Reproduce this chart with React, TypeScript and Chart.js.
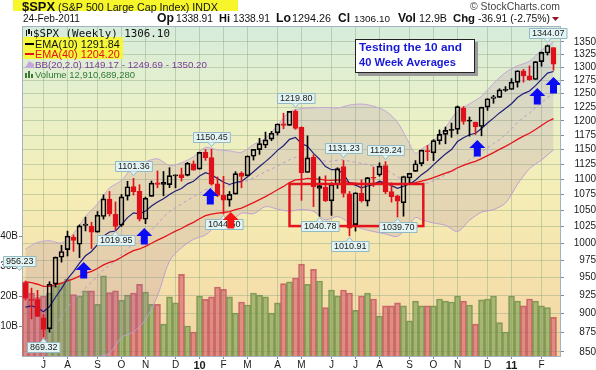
import React, { useEffect, useRef } from "react";
import { Chart, registerables } from "chart.js";
Chart.register(...registerables);

// Weekly $SPX candles, week 0 = week ending 19-Jun-2009, week 88 = 24-Feb-2011
const priorClose = 946.21;
const opens = [
  942.5, 918.1, 919.0, 894.3, 880.0, 940.6, 979.0, 990.2, 1008.9, 998.2,
  1026.6, 1025.2, 1016.4, 1040.5, 1067.9, 1043.7, 1026.9, 1072.6, 1088.0, 1080.4,
  1036.2, 1072.3, 1094.1, 1094.9, 1091.1, 1105.5, 1107.8, 1106.4, 1125.5, 1116.6,
  1145.0, 1136.0, 1092.4, 1073.9, 1066.1, 1075.9, 1110.0, 1105.4, 1138.4, 1149.7,
  1157.2, 1167.7, 1178.7, 1194.9, 1192.1, 1217.1, 1188.6, 1111.0, 1136.5, 1084.8,
  1087.3, 1065.0, 1091.2, 1121.0, 1076.4, 1028.0, 1077.0, 1064.5, 1102.0, 1107.0,
  1122.8, 1080.0, 1073.0, 1062.0, 1102.0, 1113.0, 1126.0, 1148.0, 1144.0, 1165.0,
  1176.0, 1184.0, 1185.0, 1223.0, 1200.0, 1198.0, 1190.0, 1225.0, 1241.0, 1243.0,
  1256.0, 1257.6, 1271.0, 1293.2, 1283.3, 1276.5, 1311.0, 1328.0, 1338.91,
];
const highs = [
  945.0, 935.0, 931.9, 898.7, 943.96, 979.4, 996.7, 1018.0, 1012.2, 1027.6,
  1039.5, 1031.6, 1048.2, 1074.8, 1080.15, 1063.4, 1075.3, 1096.6, 1101.36, 1091.0,
  1071.0, 1097.0, 1113.7, 1112.8, 1119.1, 1107.3, 1118.4, 1128.0, 1130.4, 1145.4,
  1149.7, 1150.45, 1103.7, 1104.7, 1080.0, 1112.4, 1112.3, 1139.0, 1150.0, 1169.3,
  1180.2, 1181.4, 1194.7, 1213.9, 1217.3, 1219.8, 1189.5, 1173.6, 1141.0, 1104.0,
  1105.7, 1094.0, 1119.0, 1131.23, 1080.0, 1078.0, 1099.0, 1103.0, 1120.0, 1127.3,
  1129.24, 1094.0, 1074.0, 1105.0, 1110.0, 1131.0, 1148.9, 1157.0, 1167.0, 1184.0,
  1189.0, 1196.0, 1227.1, 1226.0, 1207.0, 1198.0, 1225.0, 1240.0, 1246.7, 1259.0,
  1263.0, 1278.2, 1293.2, 1296.1, 1302.7, 1311.0, 1330.0, 1344.07, 1338.91,
];
const lows = [
  918.6, 893.0, 896.0, 869.32, 875.4, 936.6, 971.9, 980.9, 987.7, 978.5,
  1018.3, 991.97, 1016.4, 1036.4, 1041.2, 1019.95, 1025.2, 1066.2, 1074.3, 1033.4,
  1029.4, 1072.3, 1086.0, 1073.1, 1086.3, 1085.9, 1097.0, 1105.4, 1114.8, 1116.6,
  1131.4, 1090.2, 1071.6, 1044.5, 1056.5, 1075.9, 1086.0, 1105.4, 1131.9, 1141.5,
  1152.9, 1165.0, 1175.0, 1186.0, 1192.1, 1185.0, 1065.8, 1111.0, 1055.9, 1040.78,
  1064.0, 1042.2, 1085.0, 1071.0, 1010.91, 1018.0, 1063.0, 1056.9, 1088.0, 1105.0,
  1076.6, 1063.0, 1039.7, 1040.9, 1091.0, 1113.0, 1122.0, 1131.0, 1131.0, 1159.0,
  1159.7, 1171.0, 1177.0, 1194.0, 1173.0, 1176.0, 1173.6, 1219.0, 1232.0, 1243.0,
  1254.0, 1257.6, 1262.0, 1271.3, 1275.0, 1276.5, 1302.0, 1324.0, 1294.26,
];
const closes = [
  921.2, 918.9, 896.4, 879.1, 940.4, 979.3, 987.5, 1010.5, 1004.1, 1026.1,
  1028.9, 1016.4, 1042.7, 1068.3, 1044.4, 1025.2, 1071.5, 1087.7, 1079.6, 1036.2,
  1069.3, 1093.5, 1091.4, 1091.5, 1106.0, 1106.4, 1102.5, 1126.5, 1115.1, 1145.0,
  1136.0, 1091.8, 1073.9, 1066.2, 1075.5, 1109.2, 1104.5, 1138.7, 1150.0, 1159.9,
  1166.6, 1178.1, 1194.4, 1192.1, 1217.3, 1186.7, 1110.9, 1135.7, 1087.7, 1089.4,
  1064.9, 1091.6, 1117.5, 1076.8, 1022.6, 1078.0, 1064.9, 1102.7, 1101.6, 1121.6,
  1079.3, 1071.7, 1064.6, 1104.5, 1109.6, 1125.6, 1148.7, 1146.2, 1165.2, 1176.2,
  1183.1, 1183.3, 1225.9, 1199.2, 1199.7, 1189.4, 1224.7, 1240.4, 1243.9, 1256.8,
  1257.6, 1271.5, 1293.2, 1283.4, 1276.3, 1310.9, 1329.2, 1343.0, 1306.1,
];
// weekly volume, billions of shares
const volumeB = [
  24.7, 21.0, 19.5, 20.0, 21.0, 23.3, 24.4, 25.6, 20.5, 20.0,
  21.7, 21.7, 17.2, 26.7, 21.1, 21.7, 18.6, 20.3, 21.0, 23.9,
  21.3, 17.2, 17.2, 10.6, 19.7, 17.7, 27.2, 10.0, 8.0, 20.0,
  18.9, 19.7, 23.0, 22.2, 19.7, 14.3, 18.0, 17.0, 21.0, 20.3,
  19.7, 14.3, 17.7, 24.1, 24.7, 26.0, 30.6, 23.9, 28.9, 25.0,
  16.1, 22.0, 20.0, 22.0, 21.0, 15.2, 20.0, 21.0, 19.0, 13.3,
  16.7, 16.7, 17.7, 16.7, 11.7, 18.3, 16.7, 16.7, 16.7, 19.0,
  18.3, 18.0, 20.0, 18.3, 17.0, 10.6, 18.7, 19.0, 20.0, 11.1,
  8.0, 20.0, 18.3, 16.7, 19.0, 18.3, 16.7, 16.1, 12.9,
];
const ema10 = [
  908.8, 910.6, 908.0, 902.7, 909.6, 922.3, 934.2, 948.1, 958.3, 970.6,
  981.2, 987.6, 997.6, 1010.5, 1016.7, 1018.2, 1027.9, 1038.8, 1046.2, 1044.4,
  1048.9, 1057.0, 1063.3, 1068.4, 1075.2, 1080.9, 1084.8, 1092.4, 1096.5, 1105.3,
  1110.9, 1107.4, 1101.3, 1094.9, 1091.4, 1094.6, 1096.4, 1104.1, 1112.4, 1121.0,
  1129.3, 1138.2, 1148.4, 1156.3, 1167.4, 1170.9, 1160.0, 1155.6, 1143.3, 1133.5,
  1121.0, 1115.7, 1116.0, 1108.9, 1093.2, 1090.4, 1085.8, 1088.9, 1091.2, 1096.7,
  1093.5, 1089.5, 1085.0, 1088.5, 1092.3, 1098.4, 1107.5, 1114.5, 1123.7, 1133.2,
  1142.3, 1149.8, 1163.6, 1170.1, 1175.5, 1178.0, 1186.5, 1196.3, 1205.0, 1214.4,
  1222.3, 1231.2, 1242.5, 1249.9, 1254.7, 1264.9, 1276.6, 1288.7, 1291.8,
];
const ema40 = [
  943.8, 942.6, 940.4, 937.4, 937.5, 939.6, 941.9, 945.3, 948.1, 951.9,
  955.7, 958.7, 962.8, 967.9, 971.6, 974.2, 979.0, 984.3, 988.9, 991.2,
  995.0, 999.8, 1004.3, 1008.6, 1013.3, 1017.9, 1022.0, 1027.1, 1031.4, 1036.9,
  1041.8, 1044.2, 1045.7, 1046.7, 1048.1, 1051.1, 1053.7, 1057.8, 1062.3, 1067.1,
  1071.9, 1077.1, 1082.8, 1088.2, 1094.5, 1099.0, 1099.5, 1101.3, 1100.6, 1100.1,
  1098.4, 1098.0, 1099.0, 1097.9, 1094.2, 1093.4, 1092.0, 1092.6, 1093.0, 1094.4,
  1093.7, 1092.6, 1091.2, 1091.9, 1092.7, 1094.3, 1097.0, 1099.4, 1102.6, 1106.2,
  1109.9, 1113.5, 1119.0, 1122.9, 1126.6, 1129.7, 1134.3, 1139.5, 1144.6, 1150.1,
  1155.3, 1161.0, 1167.4, 1173.1, 1178.1, 1184.6, 1191.7, 1199.0, 1204.2,
];
const bbMid = [
  848.2, 850.7, 854.2, 859.6, 869.9, 884.7, 896.2, 908.3, 917.7, 926.9,
  935.5, 942.9, 951.7, 961.2, 967.0, 974.1, 983.3, 991.7, 998.7, 1003.2,
  1010.6, 1019.4, 1029.1, 1039.7, 1048.0, 1054.4, 1060.1, 1065.9, 1071.5, 1077.4,
  1082.8, 1086.5, 1088.1, 1088.0, 1089.5, 1093.7, 1095.4, 1097.9, 1101.5, 1107.6,
  1112.5, 1116.7, 1121.9, 1126.9, 1132.5, 1136.5, 1136.9, 1137.4, 1136.0, 1133.2,
  1129.7, 1129.7, 1131.8, 1132.4, 1129.7, 1128.2, 1126.2, 1124.4, 1122.0, 1120.1,
  1115.7, 1110.4, 1103.9, 1099.5, 1094.1, 1091.1, 1093.0, 1093.5, 1097.4, 1101.7,
  1107.6, 1112.2, 1117.6, 1123.7, 1132.6, 1138.2, 1146.1, 1153.0, 1160.1, 1166.9,
  1175.8, 1185.8, 1197.2, 1206.2, 1214.5, 1223.8, 1232.8, 1242.6, 1249.7,
];
const bbWeeks = [
  0, 2, 4, 6, 8, 10, 12, 14, 16, 18, 20, 22, 24, 26, 28, 30, 32, 34, 36, 38, 40, 42, 44,
  46, 48, 50, 52, 54, 56, 58, 60, 62, 64, 65, 66, 68, 70, 72, 74, 76, 78, 80, 82, 84, 86, 88,
];
const bbUpper = [
  991.2, 1001.0, 1003.5, 1000.2, 1014.5, 1040.5, 1060.3, 1085.6, 1097.9, 1121.4, 1129.0, 1134.1, 1122.6,
  1127.3, 1137.5, 1153.4, 1149.1, 1147.5, 1145.2, 1158.3, 1169.1, 1191.9, 1216.3,
  1222.3, 1223.6, 1224.3, 1223.2, 1228.7, 1230.6, 1226.6, 1217.9, 1197.7, 1159.9, 1143.3, 1150.6,
  1164.4, 1188.4, 1217.8, 1230.8, 1245.1, 1269.1, 1290.0, 1302.8, 1311.7, 1333.6, 1350.2,
];
const bbLower = [
  705.2, 707.4, 736.3, 792.2, 820.9, 830.5, 843.1, 848.4, 868.7, 876.0, 892.2, 924.1, 973.4,
  992.9, 1005.5, 1012.2, 1027.1, 1031.5, 1045.6, 1044.7, 1055.9, 1051.9, 1048.7,
  1051.5, 1048.4, 1035.1, 1040.4, 1030.7, 1021.8, 1017.4, 1013.5, 1010.1, 1028.3, 1038.9, 1035.4,
  1030.4, 1026.8, 1017.4, 1034.4, 1047.1, 1051.1, 1061.6, 1091.6, 1117.3, 1132.0, 1149.2,
];

const monthTickWeeks = [3, 7, 12, 16, 20, 25, 29, 33, 37, 42, 46, 51, 55, 59, 64, 68, 72, 77, 81, 86];
const monthTickLabels = ["J", "A", "S", "O", "N", "D", "10", "F", "M", "A", "M", "J", "J", "A", "S", "O", "N", "D", "11", "F"];
const priceTicks = [850, 875, 900, 925, 950, 975, 1000, 1025, 1050, 1075, 1100, 1125, 1150, 1175, 1200, 1225, 1250, 1275, 1300, 1325, 1350];
const volumeTicks = [10, 20, 30, 40];

const pivotWeeks = [-1, 3, 15, 18, 31, 33, 45, 49, 53, 54, 60, 62, 87];
const pivotValues = [956.23, 869.32, 1019.95, 1101.36, 1150.45, 1044.5, 1219.8, 1040.78, 1131.23, 1010.91, 1129.24, 1039.7, 1344.07];
const pivotAbove = [true, false, false, true, true, false, true, false, true, false, true, false, true];

const arrowWeeks = [9.7, 19.8, 30.8, 34.2, 75.3, 85.3, 88.0];
const arrowPrices = [972, 1022.8, 1085.7, 1047.5, 1166.3, 1260.4, 1281.3];
const arrowColors = ["#0a0af5", "#0a0af5", "#0a0af5", "#f5140f", "#0a0af5", "#0a0af5", "#0a0af5"];

const boxWeeks = [44, 66.3];
const boxPrices = [1025.7, 1092.2];

const SANS = '"Liberation Sans", Arial, sans-serif';
const MONO = '"DejaVu Sans Mono", "Liberation Mono", monospace';
const X_MIN = -0.5 - 1 / 12;
const X_MAX = X_MIN + 538 / 6;

function fitText(ctx: CanvasRenderingContext2D, s: string, x: number, y: number, size: number, weight: string, family: string, color: string, width?: number) {
  ctx.font = `${weight} ${size}px ${family}`;
  if (width) {
    const w = ctx.measureText(s).width;
    const ns = Math.max(size * 0.8, Math.min(size * 1.2, (size * width) / w));
    ctx.font = `${weight} ${ns.toFixed(2)}px ${family}`;
  }
  ctx.fillStyle = color;
  ctx.fillText(s, x, y);
}

export default function App() {
  const ref = useRef<HTMLCanvasElement>(null);
  useEffect(() => {
    const canvas = ref.current;
    if (!canvas) return;
    const up = (i: number) => closes[i] >= (i === 0 ? priorClose : closes[i - 1]);
    const candleColor = (i: number) => (up(i) ? "#000000" : "#e0101a");
    const hollow = (i: number) => closes[i] >= opens[i];
    const weeks = closes.map((_, i) => i);

    const background = {
      id: "background",
      beforeDraw(chart: any) {
        const { ctx, chartArea: ca } = chart;
        ctx.save();
        ctx.fillStyle = "#ffffff";
        ctx.fillRect(0, 0, chart.width, chart.height);
        const g = ctx.createLinearGradient(0, ca.top, 0, ca.bottom);
        g.addColorStop(0, "#d6ecdc");
        g.addColorStop(0.22, "#e7f0cb");
        g.addColorStop(0.5, "#f5eeb6");
        g.addColorStop(0.78, "#f5e0ab");
        g.addColorStop(1, "#f2d2a3");
        ctx.fillStyle = g;
        ctx.fillRect(ca.left, ca.top, ca.right - ca.left, ca.bottom - ca.top);
        ctx.restore();
      },
    };

    const overlay = {
      id: "overlay",
      afterDatasetsDraw(chart: any) {
        const { ctx, chartArea: ca, scales } = chart;
        const xs = scales.x;
        const ys = scales.y;
        ctx.save();
        ctx.beginPath();
        ctx.rect(ca.left, ca.top, ca.right - ca.left, ca.bottom - ca.top);
        ctx.clip();
        // red rectangle
        const rx1 = xs.getPixelForValue(boxWeeks[0]);
        const rx2 = xs.getPixelForValue(boxWeeks[1]);
        const ry1 = ys.getPixelForValue(boxPrices[1]);
        const ry2 = ys.getPixelForValue(boxPrices[0]);
        ctx.strokeStyle = "#e3141c";
        ctx.lineWidth = 2.5;
        ctx.strokeRect(rx1, ry1, rx2 - rx1, ry2 - ry1);
        ctx.restore();

        // pivot labels
        ctx.save();
        ctx.font = `9px ${SANS}`;
        ctx.textAlign = "center";
        ctx.textBaseline = "middle";
        pivotWeeks.forEach((w, k) => {
          const x = xs.getPixelForValue(w);
          const y = ys.getPixelForValue(pivotValues[k]);
          const s = pivotValues[k].toFixed(2);
          const tw = ctx.measureText(s).width + 5;
          let bx = Math.round(x - tw / 2) + 0.5;
          if (bx < 1.5) bx = 1.5;
          const h = 10;
          const above = pivotAbove[k];
          const by = above ? Math.round(y - 7 - h) + 0.5 : Math.round(y + 5) + 0.5;
          ctx.fillStyle = "#e2f4f3";
          ctx.strokeStyle = "#93b9c2";
          ctx.lineWidth = 1;
          ctx.beginPath();
          ctx.rect(bx, by, tw, h);
          ctx.fill();
          ctx.stroke();
          ctx.beginPath();
          if (above) {
            ctx.moveTo(x - 3.5, by + h);
            ctx.lineTo(x, by + h + 4);
            ctx.lineTo(x + 3.5, by + h);
          } else {
            ctx.moveTo(x - 3.5, by);
            ctx.lineTo(x, by - 4);
            ctx.lineTo(x + 3.5, by);
          }
          ctx.fillStyle = "#e2f4f3";
          ctx.fill();
          ctx.stroke();
          ctx.fillStyle = "#1c1c1c";
          ctx.fillText(s, bx + tw / 2, by + h / 2 + 0.5);
        });
        ctx.restore();

        // arrows on top
        ctx.save();
        ctx.beginPath();
        ctx.rect(ca.left, ca.top, ca.right - ca.left, ca.bottom - ca.top);
        ctx.clip();
        arrowWeeks.forEach((w, k) => {
          const x = xs.getPixelForValue(w);
          const t = ys.getPixelForValue(arrowPrices[k]);
          ctx.fillStyle = arrowColors[k];
          ctx.beginPath();
          ctx.moveTo(x, t);
          ctx.lineTo(x + 8, t + 8);
          ctx.lineTo(x + 3.5, t + 8);
          ctx.lineTo(x + 3.5, t + 16.5);
          ctx.lineTo(x - 3.5, t + 16.5);
          ctx.lineTo(x - 3.5, t + 8);
          ctx.lineTo(x - 8, t + 8);
          ctx.closePath();
          ctx.fill();
        });
        ctx.restore();
      },
      afterDraw(chart: any) {
        const { ctx, chartArea: ca } = chart;
        ctx.save();
        ctx.strokeStyle = "#a4b2c0";
        ctx.lineWidth = 1;
        ctx.beginPath();
        ctx.moveTo(ca.left, ca.top + 0.5);
        ctx.lineTo(ca.right, ca.top + 0.5);
        ctx.stroke();

        ctx.textBaseline = "alphabetic";
        ctx.textAlign = "left";
        ctx.fillStyle = "#f6f62a";
        ctx.fillRect(13, 0, 225, 11);
        fitText(ctx, "$SPX", 22, 11, 13, "bold", SANS, "#111", 33);
        fitText(ctx, "(S&P 500 Large Cap Index) INDX", 58, 10.5, 10.5, "normal", SANS, "#111", 160);
        fitText(ctx, "\u00A9 StockCharts.com", 470, 10, 10.5, "normal", SANS, "#444", 90);
        fitText(ctx, "24-Feb-2011", 23, 22, 10, "normal", SANS, "#111", 57);
        const segs: [string, number, boolean, number][] = [
          ["Op", 157, true, 17], ["1338.91", 176, false, 37],
          ["Hi", 219, true, 11], ["1338.91", 233, false, 37],
          ["Lo", 276, true, 15], ["1294.26", 292, false, 39],
          ["Cl", 338, true, 12], ["1306.10", 354, false, 36],
          ["Vol", 398, true, 18], ["12.9B", 419, false, 28],
          ["Chg", 453, true, 22], ["-36.91 (-2.75%)", 478, false, 72],
        ];
        segs.forEach(([s, x, b, w]) => fitText(ctx, s, x, 22, b ? 11 : 10, b ? "bold" : "normal", SANS, "#111", w));
        ctx.fillStyle = "#9a1020";
        ctx.beginPath();
        ctx.moveTo(552, 17);
        ctx.lineTo(559, 17);
        ctx.lineTo(555.5, 21);
        ctx.closePath();
        ctx.fill();

        ctx.fillStyle = "#f8f82a";
        ctx.globalAlpha = 0.9;
        ctx.fillRect(23, 37, 100, 22);
        ctx.globalAlpha = 1;
        ctx.fillStyle = "#111";
        ctx.fillRect(26, 30, 1, 6);
        ctx.fillRect(28, 29, 2, 5);
        ctx.fillRect(31, 31, 1, 5);
        fitText(ctx, "$SPX (Weekly) 1306.10", 33, 37, 10.5, "normal", MONO, "#111", 137);
        ctx.fillStyle = "#000";
        ctx.fillRect(25, 43, 9, 2);
        fitText(ctx, "EMA(10) 1291.84", 35, 48, 10, "normal", SANS, "#111", 85);
        ctx.fillStyle = "#e3141c";
        ctx.fillRect(25, 53, 9, 2);
        fitText(ctx, "EMA(40) 1204.20", 35, 58, 10, "normal", SANS, "#e3141c", 85);
        ctx.fillStyle = "#c6a9dc";
        ctx.beginPath();
        ctx.moveTo(25, 68);
        ctx.lineTo(29, 61);
        ctx.lineTo(34, 64);
        ctx.lineTo(34, 68);
        ctx.closePath();
        ctx.fill();
        fitText(ctx, "BB(20,2.0) 1149.17 - 1249.69 - 1350.20", 35, 68, 10, "normal", SANS, "#7b3a9b", 172);
        ctx.fillStyle = "#3d7a35";
        ctx.fillRect(25, 73, 2, 5);
        ctx.fillRect(28, 71, 2, 7);
        ctx.fillRect(31, 74, 2, 4);
        fitText(ctx, "Volume 12,910,689,280", 35, 78, 10, "normal", SANS, "#2f7a38", 100);

        ctx.fillStyle = "#9a9a9a";
        ctx.fillRect(358, 42, 120, 34);
        ctx.fillStyle = "#ffffff";
        ctx.fillRect(355, 39, 120, 34);
        ctx.strokeStyle = "#222";
        ctx.lineWidth = 1;
        ctx.strokeRect(355.5, 39.5, 119, 33);
        fitText(ctx, "Testing the 10 and", 359, 51, 12, "bold", SANS, "#1818d8", 103);
        fitText(ctx, "40 Week Averages", 359, 66, 12, "bold", SANS, "#1818d8", 97);
        ctx.restore();
      },
    };

    const gridColor = "rgba(138,165,128,0.42)";
    const borderColor = "#a4b2c0";
    const tickColor = "#7d8c9b";

    const chart = new Chart(canvas, {
      type: "bar",
      data: {
        datasets: [
          {
            type: "bar",
            label: "Volume",
            yAxisID: "yVol",
            data: weeks.map((i) => ({ x: i, y: volumeB[i] })),
            backgroundColor: weeks.map((i) => (up(i) ? "rgba(118,158,80,0.6)" : "rgba(208,88,100,0.58)")),
            borderColor: weeks.map((i) => (up(i) ? "rgba(98,132,62,0.75)" : "rgba(186,72,86,0.75)")),
            borderWidth: 1,
            barPercentage: 1,
            categoryPercentage: 1,
            grouped: false,
            order: 20,
          } as any,
          {
            type: "line",
            label: "BB upper",
            yAxisID: "y",
            data: bbWeeks.map((w, k) => ({ x: w, y: bbUpper[k] })),
            borderColor: "#c3a6d8",
            borderWidth: 1,
            pointRadius: 0,
            tension: 0.3,
            fill: "+1",
            backgroundColor: "rgba(150,100,165,0.16)",
            order: 15,
          },
          {
            type: "line",
            label: "BB lower",
            yAxisID: "y",
            data: bbWeeks.map((w, k) => ({ x: w, y: bbLower[k] })),
            borderColor: "#c3a6d8",
            borderWidth: 1,
            pointRadius: 0,
            tension: 0.3,
            fill: false,
            order: 15,
          },
          {
            type: "line",
            label: "BB mid",
            yAxisID: "y",
            data: weeks.map((i) => ({ x: i, y: bbMid[i] })),
            borderColor: "#b89ccb",
            borderWidth: 1,
            borderDash: [3, 3],
            pointRadius: 0,
            fill: false,
            order: 14,
          },
          {
            type: "line",
            label: "EMA(40)",
            yAxisID: "y",
            data: weeks.map((i) => ({ x: i, y: ema40[i] })),
            borderColor: "#e3141c",
            borderWidth: 1.3,
            pointRadius: 0,
            fill: false,
            order: 12,
          },
          {
            type: "line",
            label: "EMA(10)",
            yAxisID: "y",
            data: weeks.map((i) => ({ x: i, y: ema10[i] })),
            borderColor: "#1d1d78",
            borderWidth: 1.2,
            pointRadius: 0,
            fill: false,
            order: 11,
          },
          {
            type: "bar",
            label: "wick low",
            yAxisID: "y",
            data: weeks.map((i) => ({ x: i, y: [lows[i], Math.min(opens[i], closes[i])] })),
            backgroundColor: weeks.map(candleColor),
            barThickness: 1,
            grouped: false,
            order: 4,
          } as any,
          {
            type: "bar",
            label: "wick high",
            yAxisID: "y",
            data: weeks.map((i) => ({ x: i, y: [Math.max(opens[i], closes[i]), highs[i]] })),
            backgroundColor: weeks.map(candleColor),
            barThickness: 1,
            grouped: false,
            order: 4,
          } as any,
          {
            type: "bar",
            label: "body",
            yAxisID: "y",
            data: weeks.map((i) => ({ x: i, y: [opens[i], closes[i]] })),
            backgroundColor: weeks.map((i) => (hollow(i) ? "rgba(0,0,0,0)" : candleColor(i))),
            borderColor: weeks.map(candleColor),
            borderWidth: 1,
            borderSkipped: false,
            barThickness: 5,
            minBarLength: 1,
            grouped: false,
            order: 3,
          } as any,
        ],
      },
      options: {
        animation: false,
        responsive: false,
        maintainAspectRatio: false,
        devicePixelRatio: 1,
        layout: { padding: { top: 26, left: 0, right: 0, bottom: 0 } },
        plugins: { legend: { display: false }, tooltip: { enabled: false }, title: { display: false } },
        scales: {
          x: {
            type: "linear",
            min: X_MIN,
            max: X_MAX,
            offset: false,
            afterBuildTicks: (s: any) => {
              s.ticks = monthTickWeeks.map((v) => ({ value: v }));
            },
            afterFit: (s: any) => {
              s.height = 14;
            },
            ticks: {
              autoSkip: false,
              maxRotation: 0,
              padding: 0,
              color: "#1a1a1a",
              callback: (v: any) => {
                const k = monthTickWeeks.indexOf(Number(v));
                return k >= 0 ? monthTickLabels[k] : "";
              },
              font: (c: any) => {
                const l = c.tick ? c.tick.label : "";
                const b = l === "10" || l === "11";
                return { family: SANS, size: b ? 11 : 10, weight: b ? "bold" : "normal" };
              },
            },
            grid: { color: gridColor, offset: false, drawTicks: true, tickLength: 3, tickColor: tickColor },
            border: { color: borderColor },
          } as any,
          y: {
            type: "logarithmic",
            position: "right",
            min: 844.9,
            max: 1382.6,
            afterBuildTicks: (s: any) => {
              s.ticks = priceTicks.map((v) => ({ value: v }));
            },
            afterFit: (s: any) => {
              s.width = 36;
            },
            ticks: {
              autoSkip: false,
              padding: 2,
              crossAlign: "far",
              color: "#1a1a1a",
              font: { family: SANS, size: 10 },
              callback: (v: any) => String(v),
            },
            grid: { color: gridColor, drawTicks: true, tickLength: 4, tickColor: tickColor },
            border: { color: borderColor },
          } as any,
          yVol: {
            type: "linear",
            position: "left",
            min: 0,
            max: 110,
            afterBuildTicks: (s: any) => {
              s.ticks = volumeTicks.map((v) => ({ value: v }));
            },
            afterFit: (s: any) => {
              s.width = 22;
            },
            ticks: {
              autoSkip: false,
              padding: 1,
              color: "#1a1a1a",
              font: { family: SANS, size: 10 },
              callback: (v: any) => `${v}B`,
            },
            grid: { drawOnChartArea: false, drawTicks: true, tickLength: 3, tickColor: tickColor },
            border: { color: borderColor },
          } as any,
        },
      },
      plugins: [background, overlay],
    } as any);
    return () => chart.destroy();
  }, []);

  return (
    <div style={{ position: "absolute", left: 0, top: 0, width: 596, height: 370, background: "#ffffff" }}>
      <canvas ref={ref} width={596} height={370} style={{ display: "block", width: 596, height: 370 }} />
    </div>
  );
}
